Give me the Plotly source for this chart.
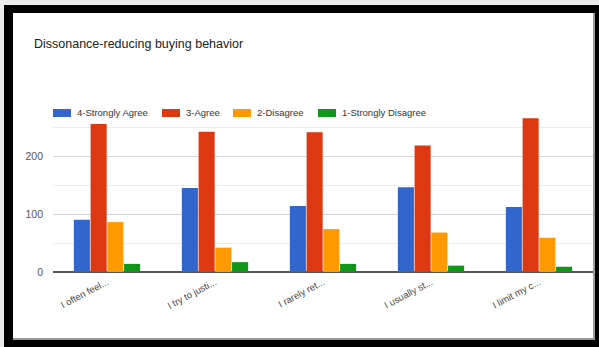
import plotly.graph_objects as go

# ---- data ----
categories = ["I often feel...", "I try to justi...", "I rarely ret...", "I usually st...", "I limit my c..."]
series_names = ["4-Strongly Agree", "3-Agree", "2-Disagree", "1-Strongly Disagree"]
strongly_agree = [90, 145, 114, 146, 112]
agree = [255, 242, 241, 218, 265]
disagree = [86, 42, 74, 68, 59]
strongly_disagree = [14, 17, 14, 11, 9]
series_values = [strongly_agree, agree, disagree, strongly_disagree]
colors = ["#3366cc", "#dc3912", "#ff9900", "#109618"]
title_text = "Dissonance-reducing buying behavior"

# ---- layout geometry (pixels) ----
W, H = 599, 347
L, R, T, B = 53, 6, 98, 75
PW, PH = W - L - R, H - T - B


def px(x):
    return (x - L) / PW


def py(y):
    return (H - B - y) / PH


FONT = "Liberation Sans, Arial, sans-serif"

fig = go.Figure()
for name, vals, col in zip(series_names, series_values, colors):
    fig.add_trace(go.Bar(
        x=categories, y=vals, name=name,
        marker=dict(color=col, line=dict(width=0)),
        showlegend=False,
    ))

shapes = []
# outer frame
shapes.append(dict(type="rect", xref="paper", yref="paper", layer="below",
                   x0=px(4), x1=px(599), y0=py(5), y1=py(347),
                   fillcolor="#000000", line=dict(width=0)))
shapes.append(dict(type="rect", xref="paper", yref="paper", layer="below",
                   x0=px(13), x1=px(595), y0=py(13), y1=py(340),
                   fillcolor="#9a9a9a", line=dict(width=0)))
shapes.append(dict(type="rect", xref="paper", yref="paper", layer="below",
                   x0=px(13), x1=px(593), y0=py(13), y1=py(338),
                   fillcolor="#ffffff", line=dict(width=0)))

annotations = []
legend_x = [53, 162, 233, 318]
legend_y = 113
for name, col, lx in zip(series_names, colors, legend_x):
    shapes.append(dict(type="rect", xref="paper", yref="paper",
                       x0=px(lx), x1=px(lx + 18), y0=py(legend_y - 4), y1=py(legend_y + 4),
                       fillcolor=col, line=dict(width=0)))
    annotations.append(dict(xref="paper", yref="paper", x=px(lx + 22), y=py(legend_y),
                            xanchor="left", yanchor="middle", showarrow=False,
                            text=name, font=dict(family=FONT, size=9.5, color="#333333")))

annotations.append(dict(xref="paper", yref="paper", x=px(32), y=py(44),
                        xanchor="left", yanchor="middle", showarrow=False,
                        text=title_text, font=dict(family=FONT, size=12.5, color="#222222")))

fig.update_layout(
    width=W, height=H,
    margin=dict(l=L, r=R, t=T, b=B, pad=0),
    paper_bgcolor="#ececec",
    plot_bgcolor="rgba(0,0,0,0)",
    barmode="group",
    bargap=0.38,
    bargroupgap=0.04,
    font=dict(family=FONT, size=10, color="#444444"),
    shapes=shapes,
    annotations=annotations,
    xaxis=dict(
        tickangle=-28, showgrid=False, ticks="", showline=False,
        tickfont=dict(size=9.5, color="#444444"), ticklabelstandoff=2,
    ),
    yaxis=dict(
        range=[0, 300], tickvals=[0, 100, 200], showgrid=True,
        gridcolor="#d6d6d6", gridwidth=1,
        zeroline=True, zerolinecolor="#555555", zerolinewidth=1.5,
        ticks="", showline=False, ticklabelstandoff=9,
        tickfont=dict(size=10.5, color="#555555"),
        minor=dict(tickvals=[50, 150, 250], showgrid=True, gridcolor="#ededed", gridwidth=1),
    ),
)

fig.write_html("out.html")
